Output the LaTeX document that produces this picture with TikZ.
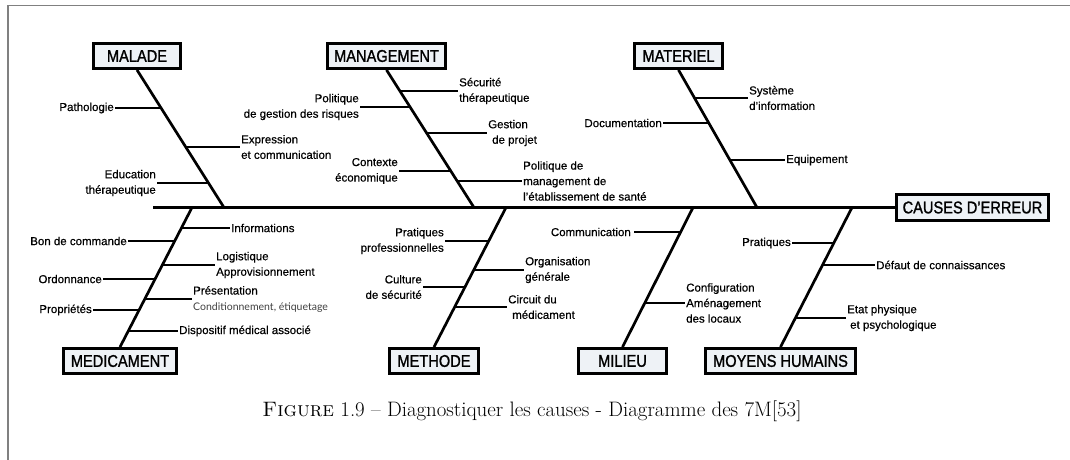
\documentclass[tikz,border=0pt]{standalone}
\usepackage{fontspec}
\newfontfamily\lblfont[FakeBold=0.5]{Liberation Sans}
\newfontfamily\boxfont[FakeStretch=0.86,FakeBold=1.2]{Liberation Sans}
\newfontfamily\subfont{Lato}
\definecolor{boxfill}{HTML}{EEF2F6}
\definecolor{framegray}{HTML}{808080}
\begin{document}
\begin{tikzpicture}[x=1pt,y=-1pt,
  bone/.style={line width=2.7pt},
  twig/.style={line width=2.5pt},
  catbox/.style={draw, line width=2.9pt, fill=boxfill, inner sep=0pt,
    minimum height=25pt, font=\boxfont\fontsize{17}{17}\selectfont},
  lblR/.style={anchor=east, inner sep=1pt, align=right,
    font=\lblfont\fontsize{11.5}{15.5}\selectfont},
  lblL/.style={anchor=west, inner sep=1pt, align=left,
    font=\lblfont\fontsize{11.5}{15.5}\selectfont}]
\useasboundingbox (0,0) rectangle (1070,460);

% page frame
\draw[framegray, line width=1.2pt] (8,460) -- (8,5.5) -- (1070,5.5);

% category boxes
\node[catbox, minimum width=87pt]  (malade)     at (137,56)    {MALADE};
\node[catbox, minimum width=118pt] (management) at (386.5,56)  {MANAGEMENT};
\node[catbox, minimum width=88pt]  (materiel)   at (678.5,56)  {MATERIEL};
\node[catbox, minimum width=113pt] (medicament) at (120,361)   {MEDICAMENT};
\node[catbox, minimum width=89pt]  (methode)    at (434,361)   {METHODE};
\node[catbox, minimum width=88pt]  (milieu)     at (622.5,361) {MILIEU};
\node[catbox, minimum width=150pt] (moyens)     at (780.5,361) {MOYENS HUMAINS};
\node[catbox, minimum width=152pt, minimum height=26pt] (causes) at (972.5,207.5) {CAUSES D’ERREUR};

% spine
\coordinate (tail) at (153,207.5);
\draw[bone] (tail) -- (causes.west);

% joints on the spine
\coordinate (sMal) at (224,207.5);
\coordinate (sMan) at (474,207.5);
\coordinate (sMat) at (757,207.5);
\coordinate (sMed) at (192,207.5);
\coordinate (sMet) at (506,207.5);
\coordinate (sMil) at (693,207.5);
\coordinate (sMoy) at (852,207.5);

% main bones
\draw[bone] (malade.south) -- (sMal);
\draw[bone] (management.south) -- (sMan);
\draw[bone] (materiel.south) -- (sMat);
\draw[bone] (medicament.north) -- (sMed);
\draw[bone] (methode.north) -- (sMet);
\draw[bone] (milieu.north) -- (sMil);
\draw[bone] (moyens.north) -- (sMoy);

% MALADE
\coordinate (k11) at (161.1,108);
\coordinate (k12) at (185.9,147);
\coordinate (k13) at (208.8,183);
\node[lblR] (t11) at (115,108) {Pathologie};
\node[lblL] (t12) at (240,147) {Expression\\et communication};
\node[lblR] (t13) at (157,183) {Education\\thérapeutique};
\draw[twig] (t11.east) -- (k11);
\draw[twig] (k12) -- (t12.west);
\draw[twig] (t13.east) -- (k13);

% MANAGEMENT
\coordinate (k21) at (399.9,91);
\coordinate (k22) at (410.1,107);
\coordinate (k23) at (426.8,133);
\coordinate (k24) at (451,171);
\coordinate (k25) at (457.4,181);
\node[lblL] (t21) at (458,91) {Sécurité\\thérapeutique};
\node[lblR] (t22) at (360,107) {Politique\\de gestion des risques};
\node[lblL] (t23) at (487,133) {Gestion\\\hspace*{4pt}de projet};
\node[lblR] (t24) at (399,171) {Contexte\\économique};
\node[lblL] (t25) at (522,181) {Politique de\\management de\\l’établissement de santé};
\draw[twig] (k21) -- (t21.west);
\draw[twig] (t22.east) -- (k22);
\draw[twig] (k23) -- (t23.west);
\draw[twig] (t24.east) -- (k24);
\draw[twig] (k25) -- (t25.west);

% MATERIEL
\coordinate (k31) at (694.5,98);
\coordinate (k32) at (708.9,123);
\coordinate (k33) at (730.1,160);
\node[lblL] (t31) at (748,98) {Système\\d’information};
\node[lblR] (t32) at (663,123) {Documentation};
\node[lblL] (t33) at (785,160) {Equipement};
\draw[twig] (k31) -- (t31.west);
\draw[twig] (t32.east) -- (k32);
\draw[twig] (k33) -- (t33.west);

% MEDICAMENT
\coordinate (k41) at (181.2,228);
\coordinate (k42) at (174.5,241);
\coordinate (k43) at (162.2,265);
\coordinate (k44) at (155,279);
\coordinate (k45) at (144.7,299);
\coordinate (k46) at (139.1,310);
\coordinate (k47) at (128.3,331);
\node[lblL] (t41) at (230,228) {Informations};
\node[lblR] (t42) at (128,241) {Bon de commande};
\node[lblL] (t43) at (215,265) {Logistique\\Approvisionnement};
\node[lblR] (t44) at (103,279) {Ordonnance};
\node[lblL] (t45) at (192,299) {Présentation\\{\subfont\fontsize{10.5}{15.5}\selectfont\color{black!75}Conditionnement, étiquetage}};
\node[lblR] (t46) at (93,310) {Propriétés};
\node[lblL] (t47) at (178,331) {Dispositif médical associé};
\draw[twig] (k41) -- (t41.west);
\draw[twig] (t42.east) -- (k42);
\draw[twig] (k43) -- (t43.west);
\draw[twig] (t44.east) -- (k44);
\draw[twig] (k45) -- (t45.west);
\draw[twig] (t46.east) -- (k46);
\draw[twig] (k47) -- (t47.west);

% METHODE
\coordinate (k51) at (488.5,241);
\coordinate (k52) at (473.6,270);
\coordinate (k53) at (464.9,287);
\coordinate (k54) at (454.6,307);
\node[lblR] (t51) at (445,241) {Pratiques\\professionnelles};
\node[lblL] (t52) at (524,270) {Organisation\\générale};
\node[lblR] (t53) at (423,287) {Culture\\de sécurité};
\node[lblL] (t54) at (507,307) {Circuit du\\\hspace*{4pt}médicament};
\draw[twig] (t51.east) -- (k51);
\draw[twig] (k52) -- (t52.west);
\draw[twig] (t53.east) -- (k53);
\draw[twig] (k54) -- (t54.west);

% MILIEU
\coordinate (k61) at (680.4,232);
\coordinate (k62) at (644.6,303);
\node[lblR, inner sep=3pt] (t61) at (634,232) {Communication};
\node[lblL] (t62) at (685,303) {Configuration\\Aménagement\\des locaux};
\draw[twig] (t61.east) -- (k61);
\draw[twig] (k62) -- (t62.west);

% MOYENS HUMAINS
\coordinate (k71) at (833.6,243);
\coordinate (k72) at (822.4,265);
\coordinate (k73) at (795.3,318);
\node[lblR] (t71) at (792,243) {Pratiques};
\node[lblL] (t72) at (875,265) {Défaut de connaissances};
\node[lblL] (t73) at (846,318) {Etat physique\\\hspace*{3pt}et psychologique};
\draw[twig] (t71.east) -- (k71);
\draw[twig] (k72) -- (t72.west);
\draw[twig] (k73) -- (t73.west);

% caption
\node[font=\fontsize{20.9}{24}\selectfont] (caption) at (532,411)
  {\textsc{Figure} 1.9 – Diagnostiquer les causes - Diagramme des 7M[53]};
\end{tikzpicture}
\end{document}
